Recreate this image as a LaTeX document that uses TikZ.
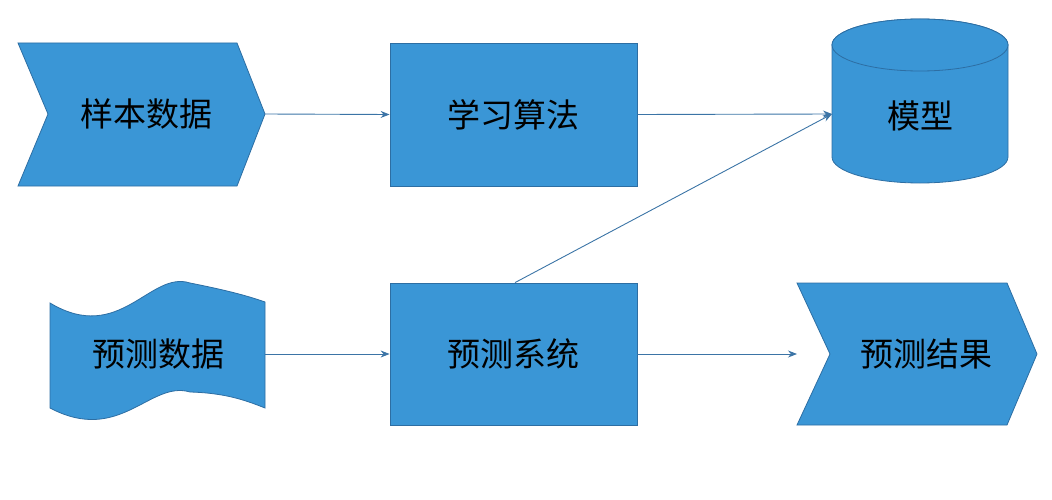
\documentclass[tikz,border=0pt]{standalone}
\usepackage{fontspec}
\newfontfamily\cjk{Noto Sans CJK SC}
\usetikzlibrary{arrows.meta}
\definecolor{fillb}{HTML}{3A96D6}
\definecolor{edgeb}{HTML}{2D6EA3}
\definecolor{arrc}{HTML}{3B74A6}
\begin{document}
\begin{tikzpicture}[x=1pt,y=-1pt,
  shp/.style={fill=fillb,draw=edgeb,line width=0.8pt},
  lbl/.style={font=\cjk\fontsize{33}{36}\selectfont,text=black,inner sep=0pt},
  conn/.style={draw=arrc,line width=0.9pt,-{Stealth[length=9pt,width=7pt]}}]
\useasboundingbox (0,0) rectangle (1052,500);
% sample data chevron
\draw[shp] (18,43) -- (237,43) -- (265,114) -- (237,186) -- (18,186) -- (48,114) -- cycle;
\node[lbl] (sd) at (146,114) {样本数据};
\coordinate (sdR) at (265,114);
% learning algorithm
\node[shp,minimum width=247pt,minimum height=143pt,inner sep=0pt] (la) at (513.5,114.5) {};
\node[lbl] at (la) {学习算法};
% model cylinder
\draw[shp] (832,45) -- (832,157) arc[start angle=180,end angle=0,x radius=88,y radius=26] -- (1008,45) arc[start angle=0,end angle=-180,x radius=88,y radius=26];
\draw[shp] (920,45) ellipse[x radius=88,y radius=26];
\node[lbl] (mo) at (920,116) {模型};
\coordinate (moL) at (832,114);
% predict data wave
\draw[shp] (50,303) .. controls (120,345) and (150,270) .. (190,283)
  .. controls (225,290) and (245,295) .. (265,302) -- (265,408)
  .. controls (245,400) and (225,393) .. (190,392)
  .. controls (150,380) and (120,445) .. (50,408) -- cycle;
\node[lbl] (pd) at (158,354) {预测数据};
\coordinate (pdR) at (265,354);
% predict system
\node[shp,minimum width=247pt,minimum height=142pt,inner sep=0pt] (ps) at (513.5,354) {};
\node[lbl] at (ps) {预测系统};
% result chevron
\draw[shp] (797,283) -- (1007,283) -- (1037,354) -- (1007,425) -- (797,425) -- (830,354) -- cycle;
\node[lbl] (pr) at (926,354) {预测结果};
\coordinate (prL) at (797,354);
% connectors
\draw[conn] (sdR) -- (la.west);
\draw[conn] (la.east) -- (moL);
\draw[conn] ([xshift=1.5pt]ps.north) -- (moL);
\draw[conn] (pdR) -- (ps.west);
\draw[conn] (ps.east) -- (prL);
\end{tikzpicture}
\end{document}
